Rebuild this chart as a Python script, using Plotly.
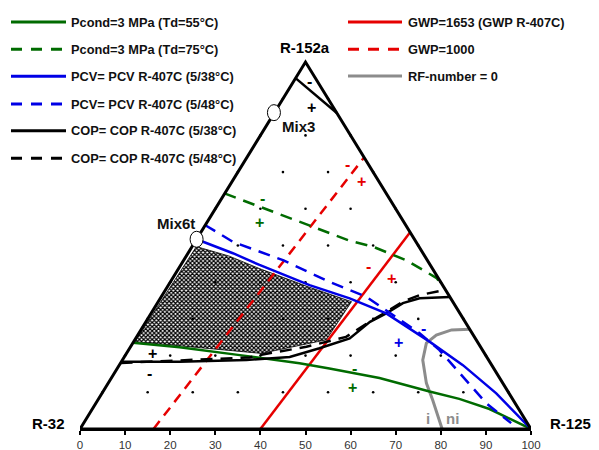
import plotly.graph_objects as go

# ---------------- data (x = bottom-axis position = R-125 + R-152a/2, y = R-152a mass %) ----------------
tick_vals = [0, 10, 20, 30, 40, 50, 60, 70, 80, 90, 100]
grid_levels = [0, 10, 20, 30, 40, 50, 60, 70, 80, 90, 100]

tri_x = [0, 50, 100, 0]
tri_y = [0, 100, 0, 0]

pcond55_x = [11.75, 22.06, 35.0, 48.67, 55.3, 66.4, 77.5, 84.1, 90.8, 100]
pcond55_y = [23.5, 22.26, 20.2, 17.9, 16.5, 13.9, 10.2, 8.2, 5.45, 0]

pcond75_x = [32.04, 45.7, 59.8, 64.9, 72.3, 79.0, 80.6]
pcond75_y = [64.2, 57.8, 51.3, 49.7, 46.0, 41.2, 38.8]

pcv38_x = [25.85, 33.9, 39.8, 50.9, 59.8, 67.9, 77.5, 84.9, 92.3, 100]
pcv38_y = [51.7, 47.9, 44.7, 39.2, 35.6, 31.5, 23.8, 17.4, 9.7, 0]

pcv48_x = [27.7, 33.9, 45.0, 55.3, 63.5, 75.3, 79.7, 84.9, 90.1, 95.6]
pcv48_y = [55.6, 51.0, 46.0, 40.1, 36.0, 26.1, 21.5, 14.3, 7.0, 1.6]

cop38_top_x = [47.8, 56.95]
cop38_top_y = [95.6, 86.1]

cop38_x = [9.17, 22.1, 36.9, 46.5, 53.1, 59.8, 64.3, 67.9, 71.6, 75.3, 82.0]
cop38_y = [18.3, 18.3, 18.8, 19.6, 22.0, 24.7, 29.2, 31.5, 34.3, 35.6, 36.0]

cop48_x = [9.0, 22.1, 37.6, 40.5, 50.2, 59.0, 64.2, 68.6, 71.6, 75.3, 81.05]
cop48_y = [18.0, 18.7, 19.5, 20.3, 22.4, 25.1, 29.2, 32.4, 34.7, 36.5, 37.9]

gwp1653_x = [40.0, 73.2]
gwp1653_y = [0.0, 53.6]

gwp1000_x = [16.3, 63.0]
gwp1000_y = [0.0, 74.0]

rf0_x = [86.4, 82.4, 79.0, 76.8, 76.0, 76.8, 78.2, 80.3]
rf0_y = [27.2, 27.0, 25.6, 23.4, 18.8, 12.5, 7.9, 0.0]

hatch_x = [12.2, 25.8, 33.1, 39.8, 50.9, 60.2, 54.6, 40.2, 12.2]
hatch_y = [23.8, 49.7, 47.1, 43.7, 38.6, 34.7, 24.3, 20.6, 23.8]

mix_names = ["Mix3", "Mix6t"]
mix_x = [43.0, 25.85]
mix_y = [86.2, 51.7]

legend_left = ["Pcond=3 MPa (Td=55°C)", "Pcond=3 MPa (Td=75°C)", "PCV= PCV R-407C (5/38°C)",
               "PCV= PCV R-407C (5/48°C)", "COP= COP R-407C (5/38°C)", "COP= COP R-407C (5/48°C)"]
legend_right = ["GWP=1653 (GWP R-407C)", "GWP=1000", "RF-number = 0"]
vertex_labels = ["R-32", "R-125", "R-152a"]

# ---------------- styles ----------------
GREEN = "#006b00"
BLUE = "#0000e6"
RED = "#e60000"
GRAY = "#8c8c8c"
BLACK = "#000000"
FONT = "Liberation Sans, Arial, sans-serif"
DASH = "12px,8px"
RDASH = "10px,7px"
LW = 2.5

fig = go.Figure()


def add_line(x, y, color, dash="solid", width=LW, name=None):
    fig.add_trace(go.Scatter(x=x, y=y, mode="lines", name=name, showlegend=False,
                             line=dict(color=color, width=width, dash=dash), hoverinfo="skip"))


# hatched feasible region
fig.add_trace(go.Scatter(x=hatch_x, y=hatch_y, mode="lines", fill="toself", showlegend=False,
                         line=dict(color=BLACK, width=0.8),
                         fillpattern=dict(shape="x", size=3, solidity=0.65, fgcolor="#000000",
                                          bgcolor="#ffffff"),
                         hoverinfo="skip"))

# grid dots
gx, gy = [], []
for b in grid_levels[1:-1]:
    for c in grid_levels:
        if c + b <= 100:
            gx.append(c + b / 2)
            gy.append(b)
fig.add_trace(go.Scatter(x=gx, y=gy, mode="markers", showlegend=False,
                         marker=dict(size=2.6, color=BLACK), hoverinfo="skip"))

add_line(rf0_x, rf0_y, GRAY, width=3, name=legend_right[2])
add_line(gwp1000_x, gwp1000_y, RED, RDASH, name=legend_right[1])
add_line(gwp1653_x, gwp1653_y, RED, name=legend_right[0])
add_line(pcond55_x, pcond55_y, GREEN, name=legend_left[0])
add_line(pcond75_x, pcond75_y, GREEN, DASH, name=legend_left[1])
add_line(cop38_x, cop38_y, BLACK, name=legend_left[4])
add_line(cop38_top_x, cop38_top_y, BLACK, name=legend_left[4])
add_line(cop48_x, cop48_y, BLACK, DASH, name=legend_left[5])
add_line(pcv48_x, pcv48_y, BLUE, DASH, name=legend_left[3])
add_line(pcv38_x, pcv38_y, BLUE, name=legend_left[2])
add_line(tri_x, tri_y, BLACK, width=3)

shapes = []
# mixture markers (ellipses)
for mx, my in zip(mix_x, mix_y):
    shapes.append(dict(type="circle", xref="x", yref="y", xsizemode="pixel", ysizemode="pixel",
                       xanchor=mx, yanchor=my, x0=-6.5, x1=6.5, y0=-8, y1=8,
                       fillcolor="white", line=dict(color=BLACK, width=1), layer="above"))

# ---------------- manual legend ----------------
def PX(p):
    return (p - 80) / 451.0


def PY(p):
    return (429 - p) / 429.0


ann = []
LEG_FONT = dict(family=FONT, size=12.8, color="#111", weight="bold")
left_styles = [(GREEN, "solid"), (GREEN, "11px,9px"), (BLUE, "solid"), (BLUE, "11px,9px"),
               (BLACK, "solid"), (BLACK, "11px,9px")]
left_rows = [22, 49.3, 76.3, 104, 130.7, 158.3]
for lab, (col, dsh), yy in zip(legend_left, left_styles, left_rows):
    shapes.append(dict(type="line", xref="paper", yref="paper", x0=PX(11), x1=PX(66), y0=PY(yy), y1=PY(yy),
                       line=dict(color=col, width=3, dash=dsh)))
    ann.append(dict(text=lab, xref="paper", yref="paper", x=PX(69), y=PY(yy), xanchor="left",
                    yanchor="middle", showarrow=False, font=LEG_FONT))
right_styles = [(RED, "solid"), (RED, "11px,9px"), (GRAY, "solid")]
right_rows = [22, 49.3, 76]
for lab, (col, dsh), yy in zip(legend_right, right_styles, right_rows):
    shapes.append(dict(type="line", xref="paper", yref="paper", x0=PX(348), x1=PX(402), y0=PY(yy), y1=PY(yy),
                       line=dict(color=col, width=3, dash=dsh)))
    ann.append(dict(text=lab, xref="paper", yref="paper", x=PX(406), y=PY(yy), xanchor="left",
                    yanchor="middle", showarrow=False, font=LEG_FONT))

# vertex labels
vertex_pos = [(48, 423), (570, 423), (305, 48)]
for lab, (vx, vy) in zip(vertex_labels, vertex_pos):
    ann.append(dict(text=lab, xref="paper", yref="paper", x=PX(vx), y=PY(vy), showarrow=False,
                    xanchor="center", yanchor="middle",
                    font=dict(family=FONT, size=15, color=BLACK, weight="bold")))

# mixture labels
mix_label_pos = [(298, 127), (176, 223)]
for lab, (lx, ly) in zip(mix_names, mix_label_pos):
    ann.append(dict(text=lab, xref="paper", yref="paper", x=PX(lx), y=PY(ly), showarrow=False,
                    xanchor="center", yanchor="middle",
                    font=dict(family=FONT, size=15, color="#111", weight="bold")))

# side-of-line signs
sign_text = ["-", "+", "-", "+", "-", "+", "-", "+", "-", "+", "-", "+", "+", "-"]
sign_color = [BLACK, BLACK, RED, RED, GREEN, GREEN, RED, RED, BLUE, BLUE, GREEN, GREEN, BLACK, BLACK]
sign_pos = [(309, 81), (311, 107), (347, 164), (361, 182), (262, 199), (259, 222), (368, 266),
            (391, 278), (423, 328), (398, 342), (354, 368), (352, 387), (152, 353), (149, 373)]
for t, c, (sx, sy) in zip(sign_text, sign_color, sign_pos):
    ann.append(dict(text=t, xref="paper", yref="paper", x=PX(sx), y=PY(sy), showarrow=False,
                    xanchor="center", yanchor="middle",
                    font=dict(family=FONT, size=16, color=c, weight="bold")))

# RF-number region labels
for t, (lx, ly) in zip(["i", "ni"], [(428, 418), (452, 418)]):
    ann.append(dict(text=t, xref="paper", yref="paper", x=PX(lx), y=PY(ly), showarrow=False,
                    xanchor="center", yanchor="middle",
                    font=dict(family=FONT, size=15, color=GRAY, weight="bold")))

fig.update_layout(
    width=599, height=450, template="none",
    margin=dict(l=80, r=68, t=0, b=21, autoexpand=False),
    paper_bgcolor="white", plot_bgcolor="white",
    showlegend=False,
    shapes=shapes, annotations=ann,
    xaxis=dict(range=[0, 100], tickvals=tick_vals, ticktext=[str(v) for v in tick_vals],
               showgrid=False, zeroline=False, showline=True, linecolor=BLACK, linewidth=2,
               ticks="outside", ticklen=4, tickwidth=2, tickcolor=BLACK, automargin=False,
               tickfont=dict(family=FONT, size=11.5, color="#333")),
    yaxis=dict(range=[0, 429 / 3.67], visible=False, automargin=False),
)

fig.write_html("out.html", config={"displayModeBar": False},
               post_script="document.body.style.margin='0';document.body.style.overflow='hidden';")
